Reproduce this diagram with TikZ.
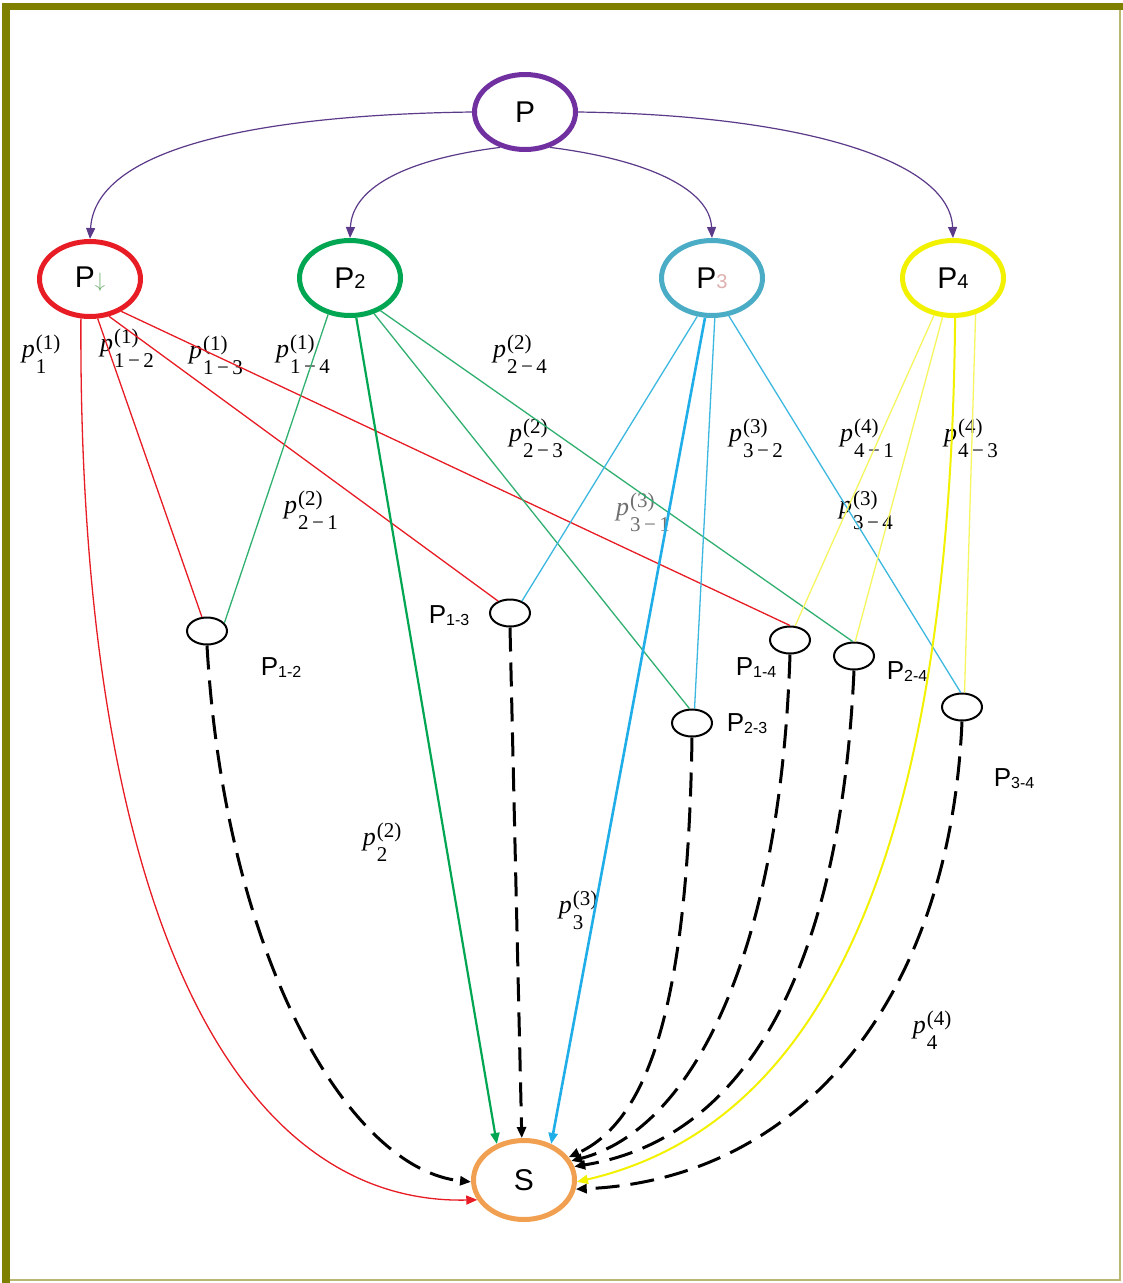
\documentclass[tikz,border=0pt]{standalone}
\usepackage{fontspec}
\setmainfont{Liberation Sans}
\newfontfamily\labserif{Liberation Serif}
\usetikzlibrary{arrows.meta,shapes.geometric}
\definecolor{cPurple}{HTML}{7030A0}
\definecolor{cPurpleL}{HTML}{5B3A8A}
\definecolor{cRed}{HTML}{E81C24}
\definecolor{cGreen}{HTML}{00A651}
\definecolor{cGreenL}{HTML}{30B070}
\definecolor{cTeal}{HTML}{4BACC6}
\definecolor{cBlue}{HTML}{1FAEE8}
\definecolor{cBlueL}{HTML}{3CB8E0}
\definecolor{cYellow}{HTML}{F2F200}
\definecolor{cYellowL}{HTML}{F6F660}
\definecolor{cOrange}{HTML}{F0A050}
\definecolor{cOlive}{HTML}{808000}
\definecolor{cOliveL}{HTML}{B8B870}
\definecolor{cPink}{HTML}{E0B0B0}
\definecolor{cSubGreen}{HTML}{70B070}
\definecolor{cGrayLab}{HTML}{707070}
\newcommand\bsub[1]{{\fontsize{20}{20}\selectfont #1}}
\newcommand\ssub[1]{\raisebox{-2pt}{\fontsize{16}{16}\selectfont #1}}
\newcommand\plab[2]{{\labserif\fontsize{26}{26}\selectfont\textit{p}}\hspace{1pt}\raisebox{-5pt}{\labserif\fontsize{21}{21}\selectfont\begin{tabular}{@{}l@{}}(#1)\\[3pt]#2\end{tabular}}}
\begin{document}
\begin{tikzpicture}[x=1pt,y=-1pt,
  big/.style={ellipse, draw, line width=5pt, minimum width=101pt, minimum height=75pt, inner sep=0pt, font=\fontsize{30}{30}\selectfont},
  smallnode/.style={ellipse, draw=black, line width=2pt, minimum width=40pt, minimum height=27pt, inner sep=0pt},
  lab/.style={inner sep=0pt},
  slab/.style={font=\fontsize{26}{26}\selectfont, inner sep=0pt},
  toparrow/.style={draw=cPurpleL, line width=1.2pt, -{Triangle[length=11pt,width=9pt]}},
  redline/.style={draw=cRed, line width=1.3pt},
  greenline/.style={draw=cGreenL, line width=1.3pt},
  blueline/.style={draw=cBlueL, line width=1.3pt},
  yellowline/.style={draw=cYellowL, line width=1.3pt},
  dashline/.style={draw=black, line width=3pt, dash pattern=on 24pt off 11pt, -{Triangle[length=11pt,width=9pt]}}
]
\useasboundingbox (0,0) rectangle (1123,1283);
\fill[white] (0,0) rectangle (1123,1283);
% frame
\fill[cOlive] (2,3) rectangle (1123,10);
\fill[cOlive] (2,3) rectangle (10,1283);
\draw[cOliveL, line width=2pt] (1120,10) -- (1120,1281);
\draw[cOliveL, line width=2pt] (10,1280) -- (1121,1280);

% main nodes
\node[big, draw=cPurple] (P) at (525,112) {P};
\node[big, draw=cRed] (P1) at (90,279) {P\bsub{\textcolor{cSubGreen}{$\downarrow$}}};
\node[big, draw=cGreen] (P2) at (350,278) {P\bsub{2}};
\node[big, draw=cTeal] (P3) at (712,278) {P\bsub{\textcolor{cPink}{3}}};
\node[big, draw=cYellow] (P4) at (953,278) {P\bsub{4}};
\node[big, draw=cOrange, minimum height=79pt] (S) at (524,1180) {S};

% small nodes
\node[smallnode] (P12) at (207,631) {};
\node[smallnode] (P13) at (510,613) {};
\node[smallnode] (P14) at (790,640) {};
\node[smallnode] (P24) at (854,656) {};
\node[smallnode] (P23) at (692,723) {};
\node[smallnode] (P34) at (962,707) {};

% small node labels
\node[slab] (L12) at (281,668) {P\ssub{1-2}};
\node[slab] (L13) at (449,616) {P\ssub{1-3}};
\node[slab] (L14) at (756,668) {P\ssub{1-4}};
\node[slab] (L24) at (907,672) {P\ssub{2-4}};
\node[slab] (L23) at (747,724) {P\ssub{2-3}};
\node[slab] (L34) at (1014,779) {P\ssub{3-4}};

% math labels
\node[lab] (m1) at (41,357) {\plab{1}{1}};
\node[lab] (m12) at (127,351) {\plab{1}{1\,−\,2}};
\node[lab] (m13) at (216,358) {\plab{1}{1\,−\,3}};
\node[lab] (m14) at (303,357) {\plab{1}{1\,−\,4}};
\node[lab] (m24) at (520,357) {\plab{2}{2\,−\,4}};
\node[lab] (m23) at (536,441) {\plab{2}{2\,−\,3}};
\node[lab] (m32) at (756,441) {\plab{3}{3\,−\,2}};
\node[lab] (m41) at (867,441) {\plab{4}{4\,−\,1}};
\node[lab] (m43) at (971,441) {\plab{4}{4\,−\,3}};
\node[lab] (m21) at (311,513) {\plab{2}{2\,−\,1}};
\node[lab, text=cGrayLab] (m31) at (643,515) {\plab{3}{3\,−\,1}};
\node[lab] (m34) at (866,513) {\plab{3}{3\,−\,4}};
\node[lab] (m2) at (382,845) {\plab{2}{2}};
\node[lab] (m3) at (578,913) {\plab{3}{3}};
\node[lab] (m4) at (932,1033) {\plab{4}{4}};

% top arrows
\draw[toparrow] (P.180) .. controls (250,115) and (95,150) .. (P1.north);
\draw[toparrow] (P.235) .. controls (400,160) and (352,190) .. (P2.north);
\draw[toparrow] (P.-55) .. controls (650,160) and (710,190) .. (P3.north);
\draw[toparrow] (P.0) .. controls (800,115) and (950,160) .. (P4.north);

% red
\draw[redline, -{Triangle[length=11pt,width=9pt,fill=cRed]}] (P1.-103) .. controls (78,900) and (230,1205) .. (S.203);
\draw[redline] (P1.-79) -- (P12.110);
\draw[redline] (P1.-63) -- (P13.135);
\draw[redline] (P1.-46) -- (P14.north);

% green
\draw[greenline] (P2.-121) -- (P12.25);
\draw[draw=cGreen, line width=2.2pt, -{Triangle[length=11pt,width=9pt]}] (P2.-81) -- (S.127);
\draw[greenline] (P2.-56) -- (P23.100);
\draw[greenline] (P2.-47) -- (P24.95);

% blue
\draw[blueline] (P3.-111) -- (P13.45);
\draw[draw=cBlue, line width=2.6pt, -{Triangle[length=11pt,width=9pt]}] (P3.-100) -- (S.53);
\draw[blueline] (P3.-86) -- (P23.80);
\draw[blueline] (P3.-66) -- (P34.95);

% yellow
\draw[yellowline] (P4.-117) -- (P14.70);
\draw[yellowline] (P4.-105) -- (P24.85);
\draw[draw=cYellow, line width=2pt, -{Triangle[length=11pt,width=9pt]}] (P4.-87) .. controls (950,900) and (800,1130) .. (S.-2);
\draw[yellowline] (P4.-58) -- (P34.80);

% dashed to S
\draw[dashline] (P12.south) .. controls (225,960) and (350,1170) .. (S.182);
\draw[dashline] (P13.south) -- (S.93);
\draw[dashline] (P23.south) .. controls (688,1000) and (650,1120) .. (S.27);
\draw[dashline] (P14.south) .. controls (780,960) and (690,1130) .. (S.22);
\draw[dashline] (P24.south) .. controls (840,980) and (740,1140) .. (S.15);
\draw[dashline] (P34.south) .. controls (950,1000) and (800,1180) .. (S.-10);
\end{tikzpicture}
\end{document}
